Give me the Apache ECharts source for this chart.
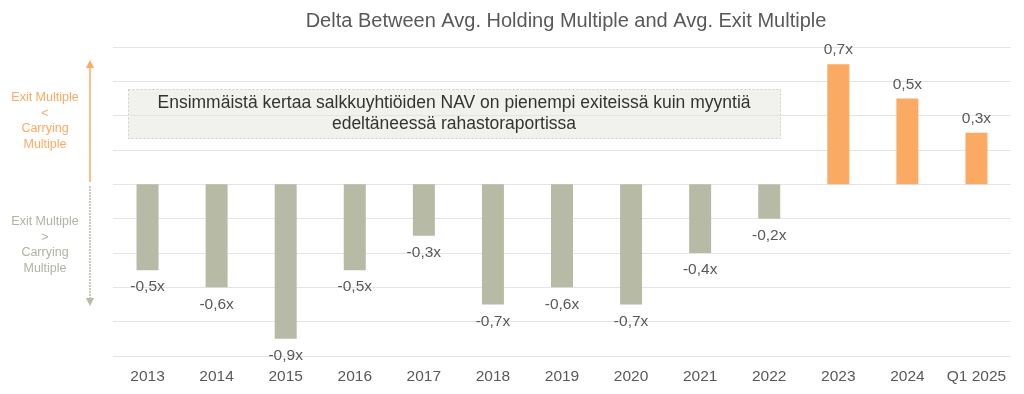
<!DOCTYPE html>
<html>
<head>
<meta charset="utf-8">
<script src="https://cdn.jsdelivr.net/npm/echarts@6/dist/echarts.min.js"></script>
<style>html,body{margin:0;padding:0;background:#fff}#c{width:1024px;height:394px}</style>
</head>
<body>
<div id="c"></div>
<script>
const categories = ['2013','2014','2015','2016','2017','2018','2019','2020','2021','2022','2023','2024','Q1 2025'];
const deltaValues = [-0.5,-0.6,-0.9,-0.5,-0.3,-0.7,-0.6,-0.7,-0.4,-0.2,0.7,0.5,0.3];
const titleText = 'Delta Between Avg. Holding Multiple and Avg. Exit Multiple';
const noteText = 'Ensimmäistä kertaa salkkuyhtiöiden NAV on pienempi exiteissä kuin myyntiä\nedeltäneessä rahastoraportissa';
const upperLabel = 'Exit Multiple\n<\nCarrying\nMultiple';
const lowerLabel = 'Exit Multiple\n>\nCarrying\nMultiple';

const GREEN = '#b7baa5', ORANGE = '#fbaa63';
const FONT = '"Liberation Sans", Arial, sans-serif';
const fmt = v => (v < 0 ? '-' : '') + Math.abs(v).toFixed(1).replace('.', ',') + 'x';

const chart = echarts.init(document.getElementById('c'));
chart.setOption({
  animation: false,
  textStyle: { fontFamily: FONT },
  title: {
    text: titleText, left: 561, textAlign: 'center', top: 6,
    textStyle: { fontSize: 20, fontWeight: 'normal', color: '#595959', fontFamily: FONT }
  },
  grid: { left: 113, right: 13, top: 47, bottom: 38, containLabel: false },
  xAxis: {
    type: 'category', data: categories,
    axisLine: { show: false, onZero: false }, axisTick: { show: false },
    axisLabel: { color: '#595959', fontSize: 15.5, margin: 13, interval: 0, fontFamily: FONT }
  },
  yAxis: {
    type: 'value', min: -1.0, max: 0.8, interval: 0.2,
    axisLabel: { show: false }, axisLine: { show: false }, axisTick: { show: false },
    splitLine: { lineStyle: { color: '#e4e4e4', width: 1 } }
  },
  series: [{
    type: 'bar', barWidth: 22,
    data: deltaValues.map(v => ({ value: v, itemStyle: { color: v < 0 ? GREEN : ORANGE },
      label: { position: v < 0 ? 'bottom' : 'top', distance: v < 0 ? 9 : 6 } })),
    label: { show: true, formatter: p => fmt(p.value), color: '#595959', fontSize: 15.5, fontFamily: FONT }
  }],
  graphic: [
    { type: 'rect', shape: { x: 128.5, y: 89.5, width: 652, height: 49 },
      style: { fill: '#f1f1ed', stroke: '#cfcfc8', lineWidth: 1, lineDash: [2, 2] } },
    { type: 'text', x: 454, y: 114, style: { text: noteText, fill: '#333', fontSize: 17.5,
      fontFamily: FONT, align: 'center', verticalAlign: 'middle', lineHeight: 21 } },
    { type: 'line', shape: { x1: 90, y1: 66, x2: 90, y2: 182 }, style: { stroke: ORANGE, lineWidth: 1.5 } },
    { type: 'polygon', shape: { points: [[86, 68], [90, 60], [94, 68]] }, style: { fill: ORANGE } },
    { type: 'line', shape: { x1: 90, y1: 186, x2: 90, y2: 300 }, style: { stroke: '#b7baa5', lineWidth: 1.5, lineDash: [2, 1] } },
    { type: 'polygon', shape: { points: [[86, 298], [90, 306], [94, 298]] }, style: { fill: '#b7baa5' } },
    { type: 'text', x: 45, y: 121, style: { text: upperLabel, fill: ORANGE, fontSize: 12.5,
      align: 'center', verticalAlign: 'middle', lineHeight: 15.5, fontFamily: FONT } },
    { type: 'text', x: 45, y: 245, style: { text: lowerLabel, fill: '#b0b3a2', fontSize: 12.5,
      align: 'center', verticalAlign: 'middle', lineHeight: 15.5, fontFamily: FONT } }
  ]
});
</script>
</body>
</html>
